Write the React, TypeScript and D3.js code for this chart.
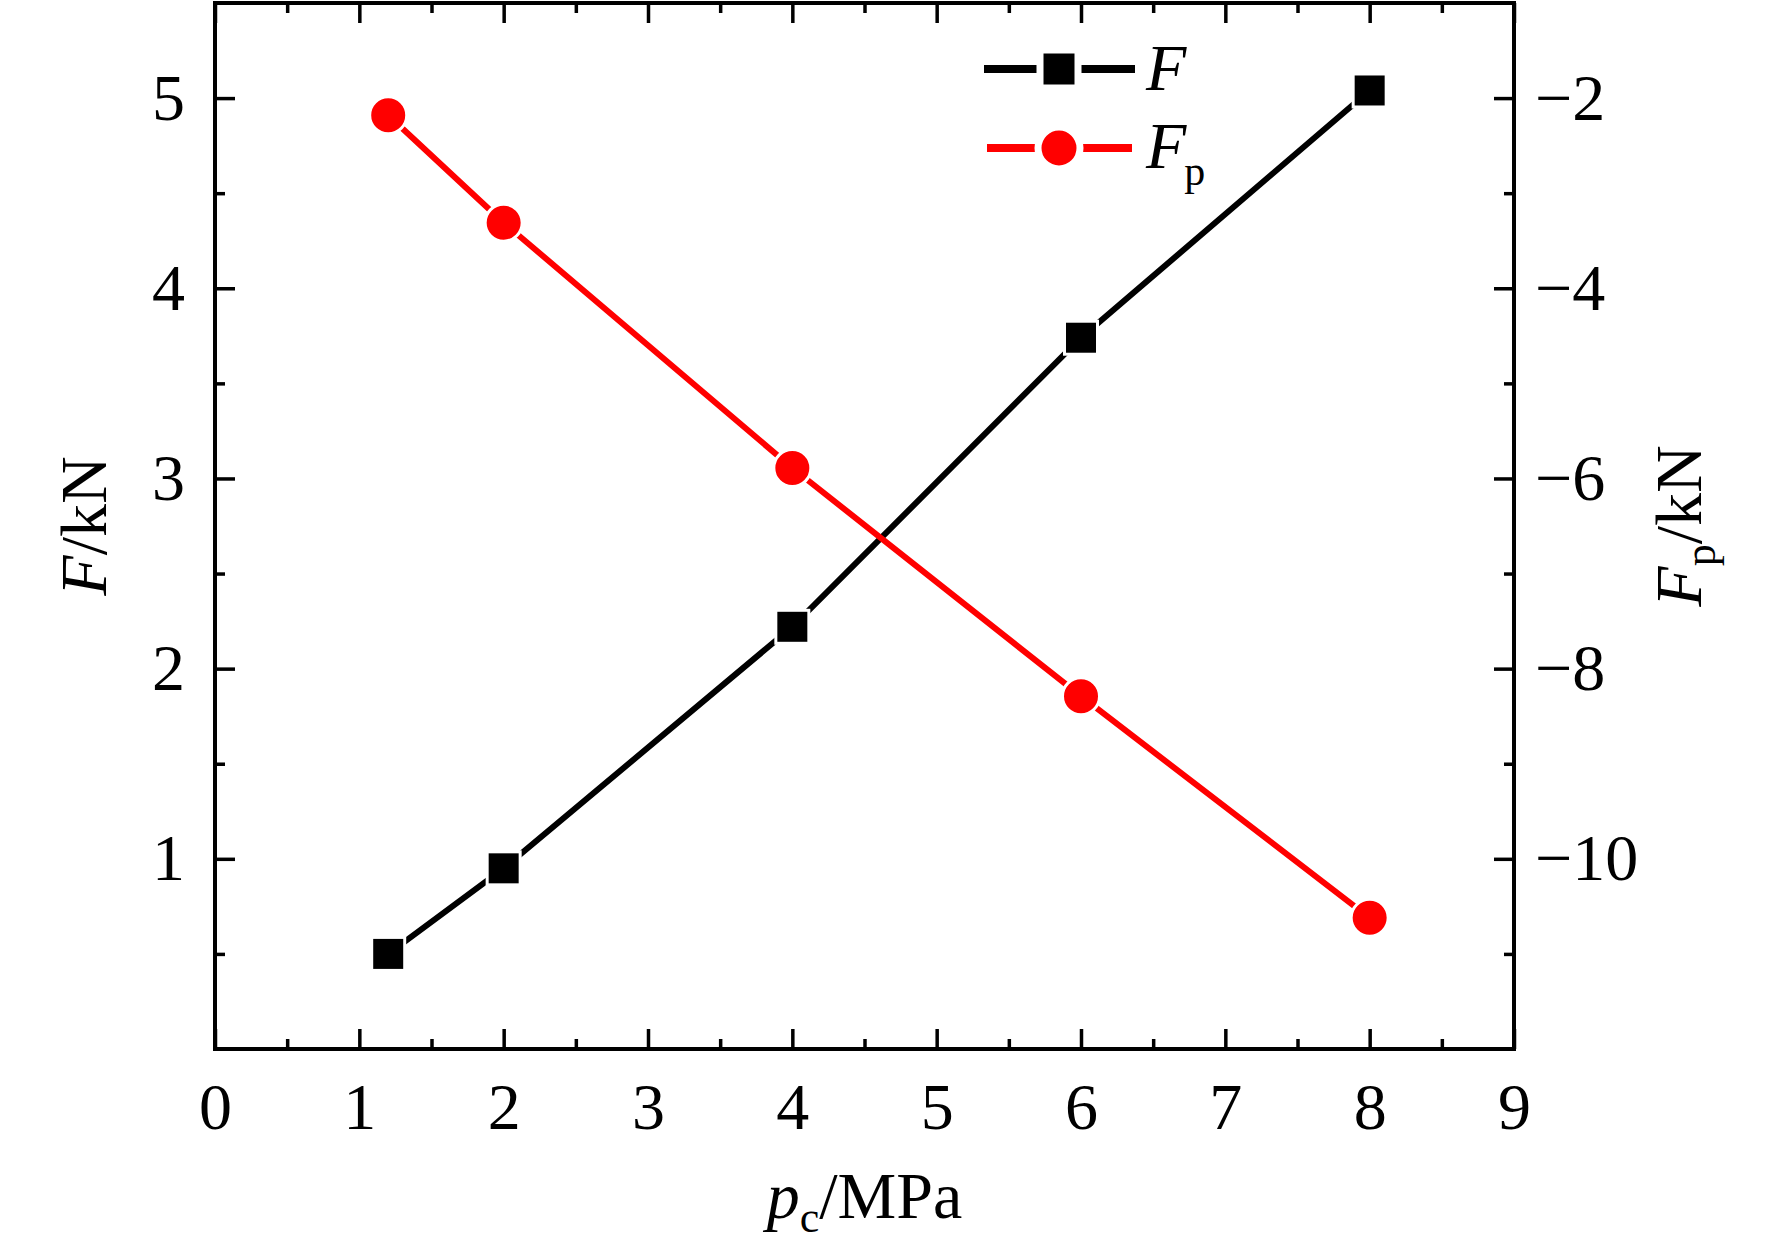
import React, { useEffect, useRef } from 'react';
import * as d3 from 'd3';

// pc/MPa
const pressure = [1.2, 2, 4, 6, 8];
// F/kN (left axis)
const forceF = [0.5, 0.95, 2.22, 3.74, 5.04];
// Fp/kN (right axis)
const forceFp = [-2.18, -3.31, -5.89, -8.29, -10.62];

const xMajor = [0, 1, 2, 3, 4, 5, 6, 7, 8, 9];
const xMinor = [0.5, 1.5, 2.5, 3.5, 4.5, 5.5, 6.5, 7.5, 8.5];
const leftMajor = [1, 2, 3, 4, 5];
const leftMinor = [0.5, 1.5, 2.5, 3.5, 4.5];
const rightMajor = [-2, -4, -6, -8, -10];
const rightMinor = [-3, -5, -7, -9, -11];

const FONT = '"Liberation Serif", "Times New Roman", serif';

export default function App() {
  const svgRef = useRef<SVGSVGElement>(null);

  useEffect(() => {
    const svg = d3.select(svgRef.current);
    svg.selectAll('*').remove();

    const width = 1772;
    const height = 1252;
    const margin = { top: 3, right: 258, bottom: 203, left: 215 };
    const plotW = width - margin.left - margin.right;
    const plotH = height - margin.top - margin.bottom;

    svg.attr('width', width).attr('height', height);

    const g = svg
      .append('g')
      .attr('transform', `translate(${margin.left},${margin.top})`);

    // Шкалы
    const x = d3.scaleLinear().domain([0, 9]).range([0, plotW]);
    const yL = d3.scaleLinear().domain([0, 5.5]).range([plotH, 0]);
    const yR = d3.scaleLinear().domain([-12, -1]).range([plotH, 0]);

    const styleAxis = (sel: d3.Selection<SVGGElement, unknown, null, undefined>) => {
      sel.select('.domain').remove();
      sel.selectAll('line').attr('stroke', '#000').attr('stroke-width', 3.5);
      sel
        .attr('font-family', FONT)
        .attr('font-size', 66)
        .selectAll('text')
        .attr('fill', '#000');
    };

    // Оси: основные и промежуточные засечки внутрь
    g.append('g')
      .attr('transform', `translate(0,${plotH})`)
      .call(d3.axisBottom(x).tickValues(xMajor).tickSize(-20).tickPadding(33).tickFormat(d3.format('d')))
      .call(styleAxis);
    g.append('g')
      .attr('transform', `translate(0,${plotH})`)
      .call(d3.axisBottom(x).tickValues(xMinor).tickSize(-10).tickFormat(() => ''))
      .call(styleAxis);
    g.append('g')
      .call(d3.axisTop(x).tickValues(xMajor).tickSize(-20).tickFormat(() => ''))
      .call(styleAxis);
    g.append('g')
      .call(d3.axisTop(x).tickValues(xMinor).tickSize(-10).tickFormat(() => ''))
      .call(styleAxis);

    g.append('g')
      .call(d3.axisLeft(yL).tickValues(leftMajor).tickSize(-20).tickPadding(30).tickFormat(d3.format('d')))
      .call(styleAxis);
    g.append('g')
      .call(d3.axisLeft(yL).tickValues(leftMinor).tickSize(-10).tickFormat(() => ''))
      .call(styleAxis);

    g.append('g')
      .attr('transform', `translate(${plotW},0)`)
      .call(d3.axisRight(yR).tickValues(rightMajor).tickSize(-20).tickPadding(21).tickFormat(d3.format('d')))
      .call(styleAxis);
    g.append('g')
      .attr('transform', `translate(${plotW},0)`)
      .call(d3.axisRight(yR).tickValues(rightMinor).tickSize(-10).tickFormat(() => ''))
      .call(styleAxis);

    // Рамка
    g.append('rect')
      .attr('x', 0)
      .attr('y', 0)
      .attr('width', plotW)
      .attr('height', plotH)
      .attr('fill', 'none')
      .attr('stroke', '#000')
      .attr('stroke-width', 4);

    const rowsF = pressure.map((p, i) => ({ p, v: forceF[i] }));
    const rowsFp = pressure.map((p, i) => ({ p, v: forceFp[i] }));

    // Линии
    g.append('path')
      .datum(rowsF)
      .attr('fill', 'none')
      .attr('stroke', '#000')
      .attr('stroke-width', 6)
      .attr('d', d3.line<{ p: number; v: number }>().x(d => x(d.p)).y(d => yL(d.v)));

    g.append('path')
      .datum(rowsFp)
      .attr('fill', 'none')
      .attr('stroke', '#ff0000')
      .attr('stroke-width', 6)
      .attr('d', d3.line<{ p: number; v: number }>().x(d => x(d.p)).y(d => yR(d.v)));

    // Точки
    const sq = 33;
    g.selectAll('.sq')
      .data(rowsF)
      .enter()
      .append('rect')
      .attr('x', d => x(d.p) - sq / 2)
      .attr('y', d => yL(d.v) - sq / 2)
      .attr('width', sq)
      .attr('height', sq)
      .attr('fill', '#000')
      .attr('stroke', '#fff')
      .attr('stroke-width', 3);

    g.selectAll('.dot')
      .data(rowsFp)
      .enter()
      .append('circle')
      .attr('cx', d => x(d.p))
      .attr('cy', d => yR(d.v))
      .attr('r', 18.5)
      .attr('fill', '#ff0000')
      .attr('stroke', '#fff')
      .attr('stroke-width', 3);

    // Легенда
    const leg = svg.append('g');
    leg.append('line')
      .attr('x1', 984).attr('x2', 1135).attr('y1', 69).attr('y2', 69)
      .attr('stroke', '#000').attr('stroke-width', 8);
    leg.append('rect')
      .attr('x', 1059 - 19).attr('y', 69 - 19).attr('width', 38).attr('height', 38)
      .attr('fill', '#000').attr('stroke', '#fff').attr('stroke-width', 7);
    leg.append('text')
      .attr('x', 1146).attr('y', 90)
      .attr('font-family', FONT).attr('font-size', 66).attr('font-style', 'italic')
      .text('F');

    leg.append('line')
      .attr('x1', 987).attr('x2', 1132).attr('y1', 148).attr('y2', 148)
      .attr('stroke', '#ff0000').attr('stroke-width', 8);
    leg.append('circle')
      .attr('cx', 1059).attr('cy', 148).attr('r', 21)
      .attr('fill', '#ff0000').attr('stroke', '#fff').attr('stroke-width', 7);
    const fpLeg = leg.append('text')
      .attr('x', 1146).attr('y', 168)
      .attr('font-family', FONT).attr('font-size', 66);
    fpLeg.append('tspan').attr('font-style', 'italic').text('F');
    fpLeg.append('tspan').attr('font-size', 42).attr('dx', -2).attr('dy', 17).text('p');

    // Подписи осей
    const xTitle = svg.append('text')
      .attr('x', margin.left + plotW / 2)
      .attr('y', 1218)
      .attr('text-anchor', 'middle')
      .attr('font-family', FONT)
      .attr('font-size', 66);
    xTitle.append('tspan').attr('font-style', 'italic').text('p');
    xTitle.append('tspan').attr('font-size', 44).attr('dy', 14).text('c');
    xTitle.append('tspan').attr('dy', -14).text('/MPa');

    const yTitle = svg.append('text')
      .attr('transform', `translate(106,${margin.top + plotH / 2}) rotate(-90)`)
      .attr('text-anchor', 'middle')
      .attr('font-family', FONT)
      .attr('font-size', 66);
    yTitle.append('tspan').attr('font-style', 'italic').text('F');
    yTitle.append('tspan').text('/kN');

    const yrTitle = svg.append('text')
      .attr('transform', `translate(1701,${margin.top + plotH / 2}) rotate(-90)`)
      .attr('text-anchor', 'middle')
      .attr('font-family', FONT)
      .attr('font-size', 66);
    yrTitle.append('tspan').attr('font-style', 'italic').text('F');
    yrTitle.append('tspan').attr('font-size', 44).attr('dy', 14).text('p');
    yrTitle.append('tspan').attr('dy', -14).text('/kN');
  }, []);

  return (
    <div>
      <style>{'body{margin:0;background:#fff}'}</style>
      <svg ref={svgRef} style={{ display: 'block' }}></svg>
    </div>
  );
}
